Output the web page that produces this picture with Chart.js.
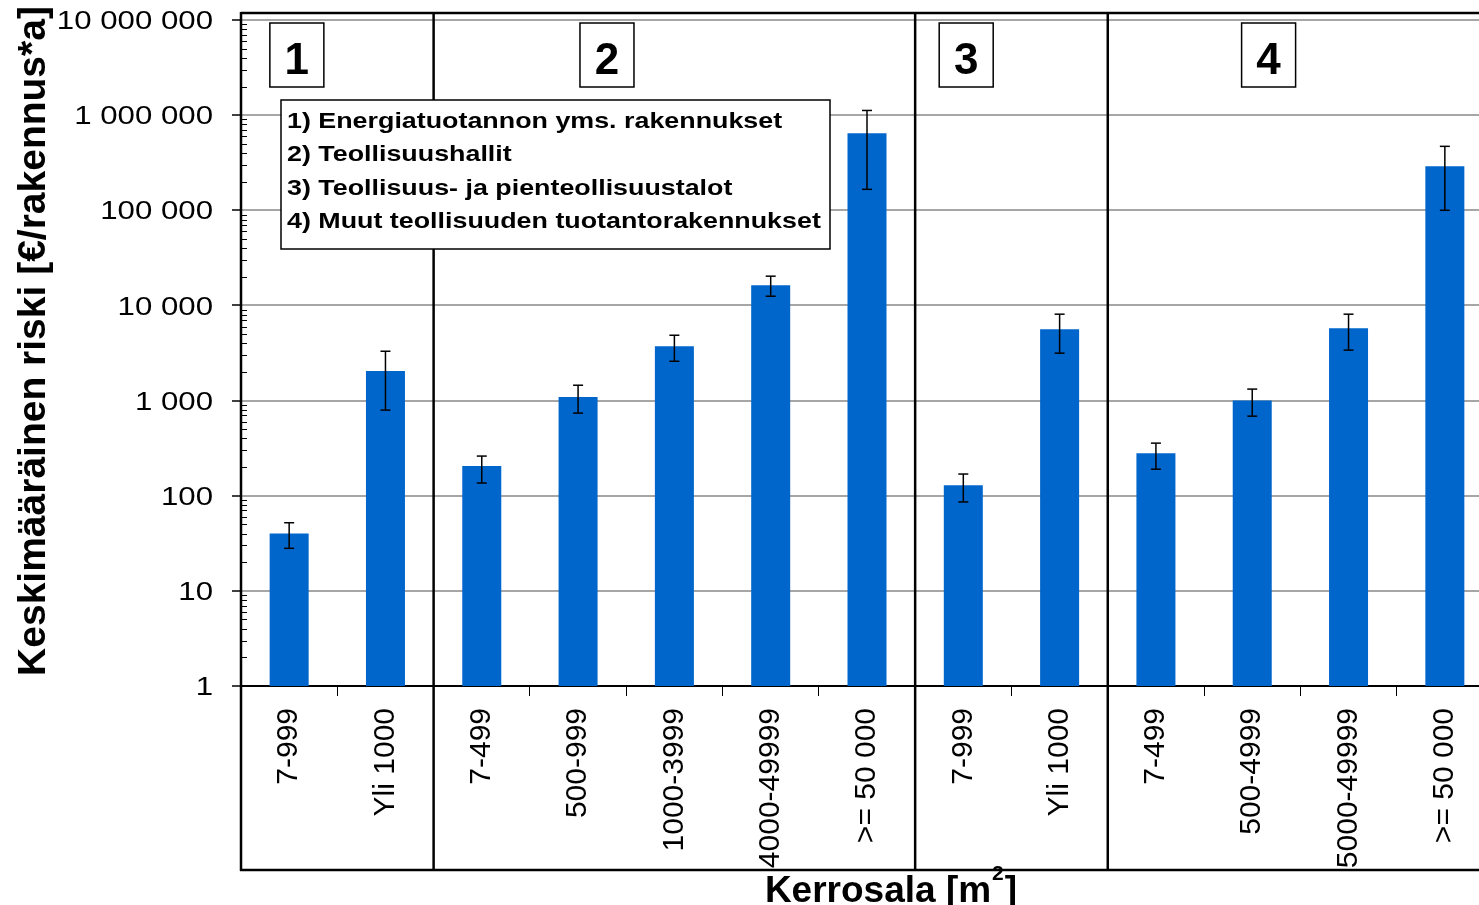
<!DOCTYPE html>
<html>
<head>
<meta charset="utf-8">
<script src="https://cdn.jsdelivr.net/npm/chart.js@4/dist/chart.umd.min.js"></script>
<style>
  html, body { margin: 0; padding: 0; background: #fff; overflow: hidden; }
  #wrap { width: 1500px; height: 905px; }
</style>
</head>
<body>
<div id="wrap"><canvas id="kaavio" width="1500" height="905"></canvas></div>
<script>
const kerrosala = ['7-999', 'Yli 1000', '7-499', '500-999', '1000-3999', '4000-49999', '>= 50 000',
  '7-999', 'Yli 1000', '7-499', '500-4999', '5000-49999', '>= 50 000'];
const riski = [40, 2040, 205, 1090, 3730, 16300, 644000, 129, 5620, 280, 1000, 5760, 290000];
const virheYla = [52, 3300, 261, 1450, 4860, 20300, 1120000, 169, 8090, 357, 1320, 8090, 470000];
const virheAla = [28, 794, 136, 738, 2590, 12500, 166000, 86, 3150, 190, 686, 3390, 100000];
const ryhmaRajat = [2, 7, 9]; // indeksit joista uusi ryhmä alkaa
const ryhmat = ['1', '2', '3', '4'];
const selitteet = [
  '1) Energiatuotannon yms. rakennukset',
  '2) Teollisuushallit',
  '3) Teollisuus- ja pienteollisuustalot',
  '4) Muut teollisuuden tuotantorakennukset'
];
const yTicks = [1, 10, 100, 1000, 10000, 100000, 1000000, 10000000];

const FONT = "'Liberation Sans', Arial, sans-serif";
const ryhmaMerkit = [0.08, 3.3, 7.03, 10.17]; // numerolaatikoiden paikat (kategoria-asteikolla)

function muotoile(v) {
  return String(v).replace(/\B(?=(\d{3})+(?!\d))/g, ' ');
}

function viiva(ctx, x1, y1, x2, y2) {
  ctx.beginPath();
  ctx.moveTo(x1, y1);
  ctx.lineTo(x2, y2);
  ctx.stroke();
}

const lisat = {
  id: 'lisat',
  afterDatasetsDraw(chart) {
    const { ctx, scales: { y } } = chart;
    const meta = chart.getDatasetMeta(0);
    ctx.save();
    ctx.strokeStyle = '#000';
    ctx.lineWidth = 1.5;
    meta.data.forEach((bar, i) => {
      const yh = y.getPixelForValue(virheYla[i]);
      const yl = y.getPixelForValue(virheAla[i]);
      viiva(ctx, bar.x, yh, bar.x, yl);
      viiva(ctx, bar.x - 5, yh, bar.x + 5, yh);
      viiva(ctx, bar.x - 5, yl, bar.x + 5, yl);
    });
    ctx.restore();
  },
  afterDraw(chart) {
    const { ctx, chartArea: ca, scales: { x, y } } = chart;
    const W = chart.width;
    const ylin = ca.top - 7;
    const alin = ca.bottom + 184;
    ctx.save();
    ctx.strokeStyle = '#000';

    // kehykset ja ryhmien erottimet
    ctx.lineWidth = 2.5;
    viiva(ctx, ca.left, ylin, W, ylin);
    viiva(ctx, ca.left - 1, alin, W, alin);
    viiva(ctx, ca.left, ylin - 1, ca.left, alin + 1);
    ryhmaRajat.forEach(r => {
      const sx = (x.getPixelForValue(r - 1) + x.getPixelForValue(r)) / 2;
      viiva(ctx, sx, ylin - 1, sx, alin + 1);
    });

    // log-asteikon pienet jakoviivat
    ctx.lineWidth = 1;
    for (let n = 0; n < 7; n++) {
      for (let k = 2; k <= 9; k++) {
        const py = Math.round(y.getPixelForValue(k * Math.pow(10, n))) + 0.5;
        viiva(ctx, ca.left, py, ca.left + 6, py);
      }
    }

    // y-akselin luvut
    ctx.fillStyle = '#000';
    ctx.font = '26px ' + FONT;
    ctx.textAlign = 'right';
    ctx.textBaseline = 'middle';
    yTicks.forEach(v => {
      ctx.save();
      ctx.translate(ca.left - 28, y.getPixelForValue(v) + 2);
      ctx.scale(1.2, 1);
      ctx.fillText(muotoile(v), 0, 0);
      ctx.restore();
    });

    // ryhmien numerolaatikot
    ctx.lineWidth = 1.5;
    ctx.textAlign = 'center';
    ctx.textBaseline = 'alphabetic';
    ctx.font = 'bold 44px ' + FONT;
    ryhmat.forEach((t, i) => {
      const cx = x.getPixelForValue(ryhmaMerkit[i]);
      ctx.fillStyle = '#fff';
      ctx.fillRect(cx - 27, 23, 54, 64);
      ctx.strokeRect(cx - 27, 23, 54, 64);
      ctx.fillStyle = '#000';
      ctx.fillText(t, cx, 74);
    });

    // selitelaatikko
    ctx.fillStyle = '#fff';
    ctx.fillRect(281, 100, 549, 149);
    ctx.strokeRect(281, 100, 549, 149);
    ctx.fillStyle = '#000';
    ctx.textAlign = 'left';
    ctx.font = 'bold 22px ' + FONT;
    selitteet.forEach((s, i) => {
      ctx.save();
      ctx.translate(287, 128 + i * 33.3);
      ctx.scale(1.22, 1);
      ctx.fillText(s, 0, 0);
      ctx.restore();
    });

    // y-akselin otsikko
    ctx.save();
    ctx.translate(45, 341);
    ctx.rotate(-Math.PI / 2);
    ctx.textAlign = 'center';
    ctx.font = 'bold 39px ' + FONT;
    ctx.fillText('Keskimääräinen riski [€/rakennus*a]', 0, 0);
    ctx.restore();

    // x-akselin otsikko
    const osa1 = 'Kerrosala [m', ylä = '2', osa2 = ']';
    ctx.font = 'bold 37px ' + FONT;
    const w1 = ctx.measureText(osa1).width;
    const w3 = ctx.measureText(osa2).width;
    ctx.font = 'bold 21px ' + FONT;
    const w2 = ctx.measureText(ylä).width + 2;
    let px = 891 - (w1 + w2 + w3) / 2;
    ctx.textAlign = 'left';
    ctx.font = 'bold 37px ' + FONT;
    ctx.fillText(osa1, px, 902);
    ctx.font = 'bold 21px ' + FONT;
    ctx.fillText(ylä, px + w1 + 1, 880);
    ctx.font = 'bold 37px ' + FONT;
    ctx.fillText(osa2, px + w1 + w2, 902);

    ctx.restore();
  }
};

new Chart(document.getElementById('kaavio'), {
  type: 'bar',
  data: {
    labels: kerrosala,
    datasets: [{
      data: riski,
      backgroundColor: '#0066CC',
      borderWidth: 0,
      barPercentage: 0.81,
      categoryPercentage: 0.5
    }]
  },
  options: {
    responsive: false,
    animation: false,
    layout: { padding: { top: 20, right: 7, left: 0, bottom: 0 } },
    plugins: { legend: { display: false }, tooltip: { enabled: false } },
    scales: {
      x: {
        offset: true,
        grid: { drawOnChartArea: false, drawTicks: true, tickLength: 10, color: '#000', lineWidth: 1, offset: true },
        border: { color: '#000', width: 2 },
        ticks: {
          minRotation: 90, maxRotation: 90, autoSkip: false, padding: 12, color: '#000',
          font: { family: FONT, size: 30 }
        },
        afterFit(s) { s.height = 219; s.paddingLeft = 0; s.paddingRight = 0; }
      },
      y: {
        type: 'logarithmic',
        min: 1,
        max: 10000000,
        afterBuildTicks(s) { s.ticks = yTicks.map(v => ({ value: v })); },
        grid: { color: '#a6a6a6', lineWidth: 2, tickLength: 9, tickColor: '#000', tickWidth: 1.5 },
        border: { color: '#000', width: 2 },
        ticks: { display: false },
        afterFit(s) { s.width = 241; s.paddingTop = 0; s.paddingBottom = 0; }
      }
    }
  },
  plugins: [lisat]
});
</script>
</body>
</html>
